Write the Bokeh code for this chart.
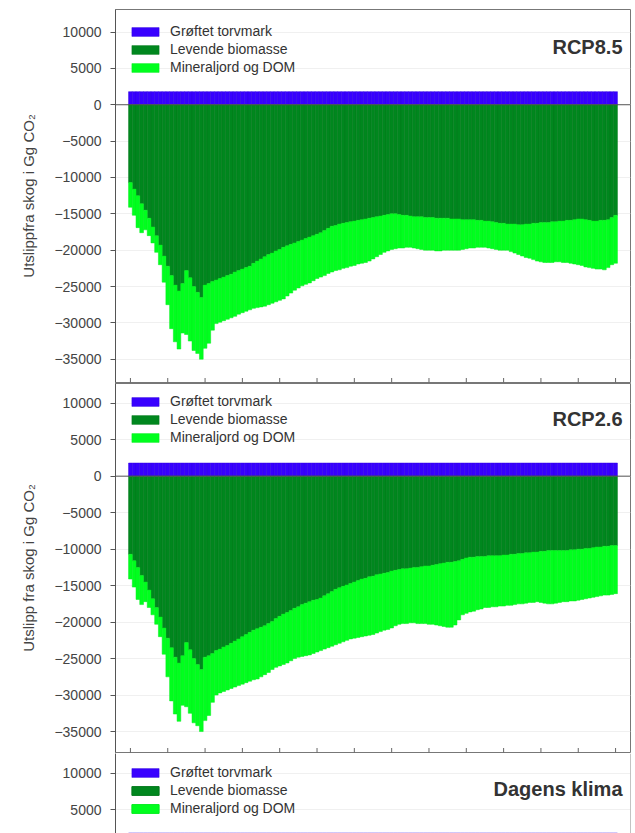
import math
from bokeh.plotting import figure
from bokeh.layouts import column
from bokeh.models import (FixedTicker, Span, Label, Legend, LegendItem,
                          ColumnDataSource, Range1d)
from bokeh.embed import file_html
from bokeh.resources import INLINE

# ---------------- data ----------------
years = list(range(2010, 2141))
x_ticks = list(range(2010, 2141, 10))
y_ticks = list(range(-35000, 10001, 5000))

series_labels = ["Grøftet torvmark", "Levende biomasse", "Mineraljord og DOM"]
panel_titles = ["RCP8.5", "RCP2.6", "Dagens klima"]
y_titles = ["Utslippfra skog i Gg CO₂", "Utslipp fra skog i Gg CO₂", ""]

torv = [
    1800, 1800, 1800, 1800, 1800, 1800, 1800, 1800, 1800, 1800,
    1800, 1800, 1800, 1800, 1800, 1800, 1800, 1800, 1800, 1800,
    1800, 1800, 1800, 1800, 1800, 1800, 1800, 1800, 1800, 1800,
    1800, 1800, 1800, 1800, 1800, 1800, 1800, 1800, 1800, 1800,
    1800, 1800, 1800, 1800, 1800, 1800, 1800, 1800, 1800, 1800,
    1800, 1800, 1800, 1800, 1800, 1800, 1800, 1800, 1800, 1800,
    1800, 1800, 1800, 1800, 1800, 1800, 1800, 1800, 1800, 1800,
    1800, 1800, 1800, 1800, 1800, 1800, 1800, 1800, 1800, 1800,
    1800, 1800, 1800, 1800, 1800, 1800, 1800, 1800, 1800, 1800,
    1800, 1800, 1800, 1800, 1800, 1800, 1800, 1800, 1800, 1800,
    1800, 1800, 1800, 1800, 1800, 1800, 1800, 1800, 1800, 1800,
    1800, 1800, 1800, 1800, 1800, 1800, 1800, 1800, 1800, 1800,
    1800, 1800, 1800, 1800, 1800, 1800, 1800, 1800, 1800, 1800,
    1800]

bio85 = [
    -10700, -11600, -12500, -13600, -14500, -15600, -16800, -18000, -19300, -20800,
    -22200, -23500, -24800, -25600, -24600, -22800, -23800, -25000, -25800, -26500,
    -24800, -24600, -24300, -24100, -23900, -23700, -23500, -23300, -23000, -22800,
    -22600, -22400, -22200, -21800, -21500, -21200, -20900, -20600, -20400, -20100,
    -19900, -19600, -19400, -19200, -19000, -18800, -18600, -18400, -18200, -18000,
    -17800, -17600, -17300, -17000, -16700, -16600, -16400, -16300, -16200, -16100,
    -16000, -15900, -15800, -15700, -15600, -15500, -15400, -15300, -15200, -15100,
    -15000, -15000, -15100, -15200, -15200, -15300, -15400, -15400, -15400, -15500,
    -15500, -15500, -15600, -15600, -15600, -15600, -15700, -15700, -15700, -15800,
    -15800, -15800, -15800, -15900, -15900, -16000, -16000, -16100, -16200, -16300,
    -16300, -16400, -16400, -16400, -16500, -16500, -16400, -16400, -16300, -16300,
    -16200, -16200, -16200, -16100, -16100, -16000, -16000, -15900, -15900, -15800,
    -15700, -15700, -15800, -15900, -16000, -16000, -15900, -15900, -15800, -15500,
    -15200]

min85 = [
    -3400, -3600, -4400, -4000, -2700, -2400, -2200, -2300, -2700, -3600,
    -5300, -7300, -7800, -8000, -6800, -8800, -8700, -8800, -8400, -8500,
    -8700, -8200, -6700, -6000, -6000, -6000, -6000, -6000, -6100, -6000,
    -6000, -6000, -6000, -6200, -6400, -6600, -6800, -6900, -6900, -7000,
    -7000, -7100, -6900, -6700, -6500, -6400, -6300, -6300, -6300, -6200,
    -6100, -6100, -6200, -6200, -6300, -6200, -6300, -6200, -6200, -6100,
    -6100, -6000, -6000, -6000, -5900, -5700, -5500, -5300, -5100, -5000,
    -4900, -4800, -4600, -4500, -4400, -4300, -4300, -4400, -4500, -4500,
    -4500, -4500, -4500, -4500, -4400, -4400, -4300, -4300, -4300, -4100,
    -4000, -3900, -3900, -3700, -3700, -3600, -3700, -3700, -3700, -3700,
    -3700, -3600, -3800, -4000, -4100, -4300, -4600, -4700, -5000, -5200,
    -5400, -5500, -5500, -5600, -5500, -5600, -5700, -5800, -5900, -6100,
    -6300, -6400, -6500, -6500, -6500, -6600, -6700, -6800, -6600, -6500,
    -6600]

bio26 = [
    -10700, -11600, -12500, -13600, -14500, -15600, -16800, -18000, -19300, -20800,
    -22200, -23500, -24800, -25600, -24600, -22800, -23800, -25000, -25800, -26500,
    -24800, -24600, -24300, -23900, -23700, -23400, -23200, -22900, -22600, -22300,
    -22000, -21700, -21400, -21100, -20900, -20700, -20500, -20200, -19900, -19500,
    -19200, -18900, -18700, -18400, -18100, -17900, -17600, -17400, -17200, -17000,
    -16900, -16700, -16400, -16100, -15800, -15500, -15300, -15100, -14900, -14700,
    -14500, -14300, -14100, -14000, -13800, -13700, -13500, -13400, -13300, -13200,
    -13000, -12900, -12800, -12700, -12700, -12600, -12500, -12500, -12400, -12300,
    -12300, -12200, -12100, -12000, -11900, -11800, -11800, -11700, -11600, -11400,
    -11200, -11100, -11100, -11000, -11000, -11000, -10900, -10900, -10900, -10900,
    -10800, -10800, -10700, -10700, -10600, -10600, -10500, -10500, -10400, -10400,
    -10300, -10300, -10200, -10200, -10200, -10200, -10200, -10200, -10100, -10100,
    -10000, -10000, -9900, -9900, -9800, -9700, -9700, -9600, -9600, -9500,
    -9500]

min26 = [
    -3400, -3600, -4400, -4000, -2700, -2400, -2200, -2300, -2700, -3600,
    -5300, -7300, -7800, -8000, -6800, -8800, -8700, -8800, -8400, -8500,
    -8700, -8200, -6700, -6100, -6000, -6100, -6100, -6200, -6300, -6400,
    -6500, -6600, -6700, -6800, -6900, -6800, -6700, -6700, -6600, -6700,
    -6800, -6900, -6900, -6900, -6900, -6900, -7100, -7200, -7300, -7300,
    -7200, -7200, -7300, -7400, -7500, -7600, -7600, -7600, -7600, -7600,
    -7700, -7800, -7900, -7900, -8000, -8000, -8000, -7900, -7800, -7800,
    -7800, -7600, -7500, -7500, -7500, -7500, -7600, -7700, -7800, -7900,
    -8000, -8100, -8300, -8500, -8700, -8900, -8900, -8700, -8100, -7600,
    -7600, -7500, -7400, -7300, -7200, -7000, -7100, -7000, -7000, -6900,
    -7000, -6900, -7000, -6900, -6900, -6900, -6900, -6800, -6900, -6800,
    -7000, -7100, -7300, -7300, -7200, -7100, -7000, -7000, -7000, -7000,
    -7000, -6900, -6900, -6800, -6800, -6800, -6700, -6700, -6700, -6700,
    -6600]

# ---------------- style ----------------
BLUE, DKG, LTG = "#3800ff", "#00871e", "#00ff1e"
EDGE = {"blue": "#3000e0", "dkg": "#00781a", "ltg": "#00ec1c"}
FONT = "Liberation Sans"
W = 631
LEFT = 115


def make_panel(h, y0, y1, top_border, bottom_border, torv_v, bio_v, min_v,
               title, ytitle, legend_y, title_y, framed=True):
    p = figure(width=W, height=h, x_range=Range1d(2006, 2144),
               y_range=Range1d(y0, y1), output_backend="svg",
               toolbar_location=None, min_border_left=LEFT,
               min_border_right=1, min_border_top=top_border,
               min_border_bottom=bottom_border,
               background_fill_color="white", border_fill_color="white")
    src_t = ColumnDataSource(dict(year=years, torv=torv_v))

    r_t = p.vbar(x="year", top="torv", bottom=0, width=1.0, source=src_t,
                 fill_color=BLUE, line_color=EDGE["blue"], line_width=0.5)
    if bio_v is not None:
        src_g = ColumnDataSource(dict(year=years, bio=bio_v, mineral=min_v))
        r_b, r_m = p.vbar_stack(["bio", "mineral"], x="year", width=1.0,
                                source=src_g, fill_color=[DKG, LTG],
                                line_color=[EDGE["dkg"], EDGE["ltg"]],
                                line_width=0.5)
    else:
        # series below the visible window: legend swatches only
        r_b = p.vbar(x="year", top="torv", bottom=0, width=1.0, source=src_t,
                     fill_color=DKG, line_color=EDGE["dkg"], visible=False)
        r_m = p.vbar(x="year", top="torv", bottom=0, width=1.0, source=src_t,
                     fill_color=LTG, line_color=EDGE["ltg"], visible=False)

    p.add_layout(Span(location=0, dimension="width", line_color="#555555",
                      line_width=1))

    legend = Legend(items=[LegendItem(label=series_labels[0], renderers=[r_t]),
                           LegendItem(label=series_labels[1], renderers=[r_b]),
                           LegendItem(label=series_labels[2], renderers=[r_m])],
                    location=(13, legend_y), orientation="vertical",
                    glyph_width=34, glyph_height=11, label_height=16,
                    label_width=10, spacing=2, padding=0, margin=0,
                    label_standoff=8, label_text_font=FONT,
                    label_text_font_size="14px", label_text_color="#333333",
                    background_fill_alpha=0, border_line_alpha=0,
                    inactive_fill_alpha=0)
    p.add_layout(legend)

    p.add_layout(Label(x=507, y=title_y, x_units="screen", y_units="screen",
                       text=title, text_align="right",
                       text_baseline="alphabetic", text_font=FONT,
                       text_font_size="20px", text_font_style="bold",
                       text_color="#333333"))

    # y axis
    ya = p.yaxis[0]
    ya.ticker = FixedTicker(ticks=y_ticks)
    ya.major_tick_out = 5
    ya.major_tick_in = 0
    ya.minor_tick_line_color = None
    ya.axis_line_color = "#555555"
    ya.major_tick_line_color = "#555555"
    ya.major_label_text_font = FONT
    ya.major_label_text_font_size = "14px"
    ya.major_label_text_color = "#444444"
    ya.major_label_standoff = 9
    ya.axis_label = ytitle if ytitle else None
    ya.axis_label_text_font = FONT
    ya.axis_label_text_font_size = "15px"
    ya.axis_label_text_font_style = "normal"
    ya.axis_label_text_color = "#444444"
    ya.axis_label_standoff = 14

    # x axis: no labels; inward ticks drawn as clipped dashes on the frame edge
    p.xaxis.visible = False
    if framed:
        p.scatter(x=x_ticks, y=[y0] * len(x_ticks), marker="dash",
                  angle=math.pi / 2, size=9, line_color="#666666",
                  line_width=1)

    p.xgrid.grid_line_color = None
    p.ygrid.grid_line_color = "#f0f0f0"
    p.ygrid.ticker = FixedTicker(ticks=y_ticks)
    if framed:
        p.outline_line_color = "#777777"
    else:
        p.outline_line_color = None
        p.add_layout(Span(location=2144, dimension="height",
                          line_color="#888888", line_width=1))
    return p


p1 = make_panel(383, -38200, 13100, 9, 1, torv, bio85, min85,
                panel_titles[0], y_titles[0], 307, 336)
p2 = make_panel(370, -37870, 12700, 0, 1, torv, bio26, min26,
                panel_titles[1], y_titles[1], 307, 334)
p3 = make_panel(80, 1740, 12700, 0, 0, torv, None, None,
                panel_titles[2], y_titles[2], 17, 45, framed=False)

layout = column(p1, p2, p3, spacing=0)
open("out.html", "w").write(file_html(layout, INLINE))
